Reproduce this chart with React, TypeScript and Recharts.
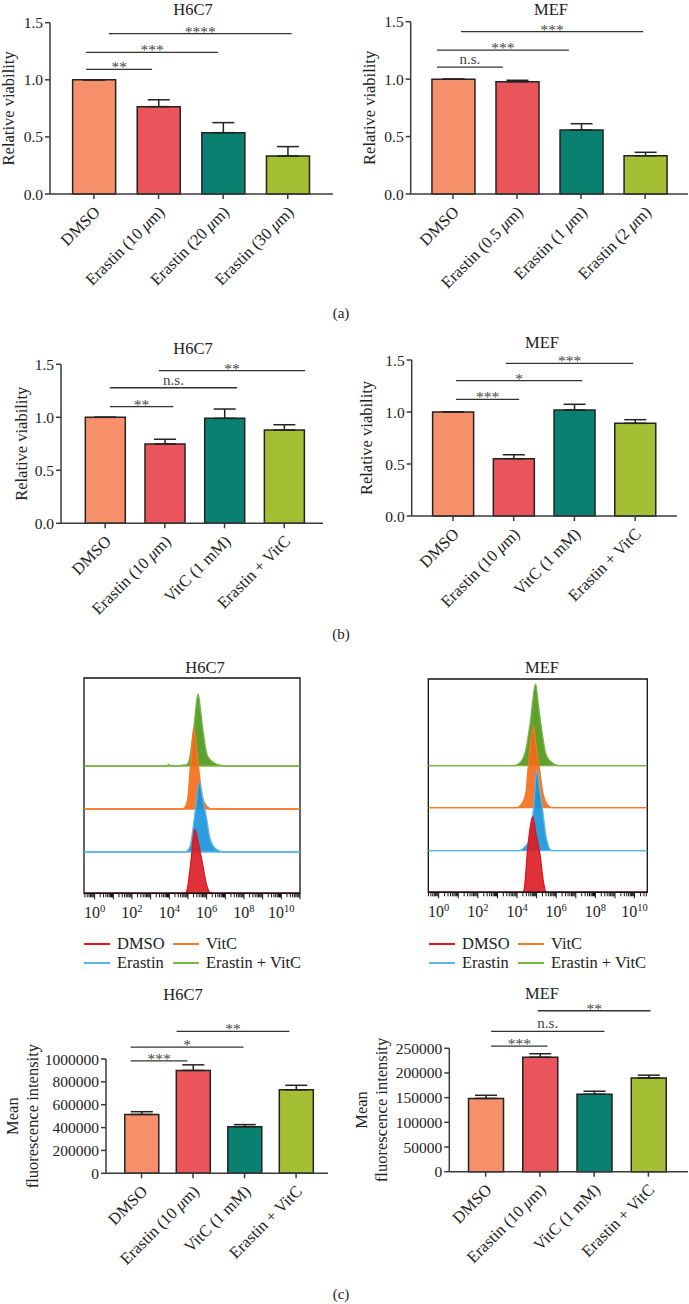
import React from 'react';
import {
  BarChart, Bar, Cell, XAxis, YAxis, ErrorBar, ReferenceLine,
  ComposedChart, Area, ReferenceArea,
} from 'recharts';

const FONT = '"Liberation Serif", "Times New Roman", serif';
const AXIS = '#3a3a3a';
const BAR_COLORS = ['#F5906A', '#E9555A', '#0A8070', '#A4BF34'];

// (a) viability vs erastin dose
const doseLabelsH6C7 = ['DMSO', 'Erastin (10 μm)', 'Erastin (20 μm)', 'Erastin (30 μm)'];
const doseViabilityH6C7 = [1.0, 0.765, 0.537, 0.333];
const doseErrH6C7 = [0, 0.06, 0.088, 0.082];
const doseSigH6C7 = [
  { from: -0.12, to: 0.9, y: 1.092, text: '**' },
  { from: -0.12, to: 1.92, y: 1.24, text: '***' },
  { from: 0.23, to: 3.06, y: 1.404, text: '****' },
];

const doseLabelsMEF = ['DMSO', 'Erastin (0.5 μm)', 'Erastin (1 μm)', 'Erastin (2 μm)'];
const doseViabilityMEF = [1.0, 0.978, 0.557, 0.333];
const doseErrMEF = [0, 0.012, 0.055, 0.03];
const doseSigMEF = [
  { from: -0.25, to: 0.78, y: 1.105, text: 'n.s.' },
  { from: -0.25, to: 1.81, y: 1.253, text: '***' },
  { from: 0.125, to: 2.97, y: 1.413, text: '***' },
];

// (b) viability with vitamin C
const vitcLabels = ['DMSO', 'Erastin (10 μm)', 'VitC (1 mM)', 'Erastin + VitC'];
const vitcViabilityH6C7 = [1.0, 0.748, 0.99, 0.88];
const vitcErrH6C7 = [0, 0.045, 0.088, 0.05];
const vitcSigH6C7 = [
  { from: 0.08, to: 1.14, y: 1.1, text: '**' },
  { from: 0.08, to: 2.21, y: 1.279, text: 'n.s.' },
  { from: 0.9, to: 3.35, y: 1.44, text: '**' },
];
const vitcViabilityMEF = [1.0, 0.551, 1.019, 0.891];
const vitcErrMEF = [0, 0.038, 0.055, 0.035];
const vitcSigMEF = [
  { from: 0.05, to: 1.09, y: 1.122, text: '***' },
  { from: 0.05, to: 2.13, y: 1.301, text: '*' },
  { from: 0.87, to: 2.97, y: 1.468, text: '***' },
];
const viabilityTicks = [0, 0.5, 1.0, 1.5];

// (c) mean fluorescence intensity
const mfiH6C7 = [515000, 900000, 408000, 730000];
const mfiErrH6C7 = [24000, 49000, 18000, 40000];
const mfiSigH6C7 = [
  { from: -0.21, to: 0.89, y: 984000, text: '***' },
  { from: -0.21, to: 1.98, y: 1104600, text: '*' },
  { from: 0.68, to: 2.87, y: 1241000, text: '**' },
];
const mfiTicksH6C7 = [0, 200000, 400000, 600000, 800000, 1000000];

const mfiMEF = [148500, 232000, 157000, 190000];
const mfiErrMEF = [6300, 7000, 6000, 5600];
const mfiSigMEF = [
  { from: 0.1, to: 1.14, y: 254300, text: '***' },
  { from: 0.1, to: 2.19, y: 284300, text: 'n.s.' },
  { from: 0.96, to: 3.04, y: 326100, text: '**' },
];
const mfiTicksMEF = [0, 50000, 100000, 150000, 200000, 250000];

// (c) flow histograms: [log10 intensity, count]
const histNames = ['DMSO', 'Erastin', 'VitC', 'Erastin + VitC'];
const histFill = ['#DC1C22', '#1592DB', '#F56A17', '#4B9614'];
const histLine = ['#E3121B', '#5AB6E6', '#F47B2B', '#78B548'];
const histOffsets = [0, 41.3, 84.3, 127.3];
const histOffsetsMEF = [0, 41.6, 84.6, 126.6];

const histH6C7 = [
  [[-0.57, 0], [4.85, 0], [4.95, 3], [5.16, 32], [5.36, 64], [5.5, 55], [5.75, 32], [6.0, 8], [6.16, 1], [6.3, 0], [11, 0]],
  [[-0.57, 0], [4.82, 0], [5.1, 5], [5.35, 35], [5.61, 69.6], [5.8, 52], [5.98, 35], [6.2, 12], [6.5, 3], [6.83, 0.5], [7.0, 0], [11, 0]],
  [[-0.57, 0], [4.7, 0], [4.85, 2], [5.0, 12], [5.12, 41], [5.32, 81.7], [5.45, 62], [5.57, 41], [5.8, 10], [6.05, 2], [6.29, 0], [11, 0]],
  [[-0.57, 0], [3.85, 0], [3.96, 1.5], [4.1, 0], [4.6, 0], [4.7, 1], [4.9, 1], [5.05, 5], [5.3, 36], [5.54, 72], [5.68, 55], [5.8, 36], [6.05, 10], [6.4, 3], [6.83, 0.5], [7.0, 0], [11, 0]],
];
const histMEF = [
  [[-0.53, 0], [4.3, 0], [4.4, 8], [4.52, 38], [4.8, 75.6], [4.95, 60], [5.17, 38], [5.35, 10], [5.5, 0], [10.65, 0]],
  [[-0.53, 0], [4.1, 0], [4.4, 4], [4.6, 10], [4.83, 40], [5.02, 80.7], [5.15, 62], [5.31, 40], [5.5, 12], [5.77, 0], [10.65, 0]],
  [[-0.53, 0], [3.98, 0], [4.25, 4], [4.45, 15], [4.57, 41], [4.83, 81.7], [4.97, 62], [5.13, 41], [5.35, 12], [5.6, 2], [5.77, 0], [10.65, 0]],
  [[-0.53, 0], [3.84, 0], [4.2, 4], [4.45, 16], [4.66, 41], [4.95, 81.7], [5.08, 62], [5.22, 41], [5.5, 10], [5.8, 3], [6.1, 0], [10.65, 0]],
];
const decades = [-1, 0, 1, 2, 3, 4, 5, 6, 7, 8, 9, 10, 11];

type Sig = { from: number; to: number; y: number; text: string };

const sigLabel = (text: string) => (p: any) => {
  const vb = p.viewBox || {};
  const cx = vb.x + (vb.width || 0) / 2;
  const star = text.includes('*');
  return (
    <text x={cx} y={star ? vb.y + 3 : vb.y - 3} textAnchor="middle"
      fontFamily={FONT} fontSize={star ? 15.5 : 15} fill="#444">{text}</text>
  );
};

const yTitle = (lines: string[], xs: number[]) => (p: any) => {
  const vb = p.viewBox || {};
  const cy = vb.y + vb.height / 2;
  return (
    <g>
      {lines.map((l, i) => (
        <text key={i} x={xs[i]} y={cy} transform={`rotate(-90 ${xs[i]} ${cy})`}
          textAnchor="middle" dominantBaseline="central" fontFamily={FONT} fontSize={16.5} fill="#222">{l}</text>
      ))}
    </g>
  );
};

const rotTick = (labels: string[]) => (p: any) => {
  const t = labels[Math.round(p.payload.value)];
  if (t == null) return null;
  const ax = p.x + 7;
  const ay = p.y + 12;
  const parts = t.split('μ');
  return (
    <text x={ax} y={ay} transform={`rotate(-45 ${ax} ${ay})`} textAnchor="end"
      fontFamily={FONT} fontSize={16.5} fill="#222">
      {parts.map((s, i) => (
        <React.Fragment key={i}>
          {i > 0 && <tspan fontStyle="italic">μ</tspan>}
          {s}
        </React.Fragment>
      ))}
    </text>
  );
};

function SigBars(props: {
  left: number; top: number; width: number; height: number;
  margin: { top: number; right: number; bottom: number; left: number };
  yWidth: number; labels: string[]; values: number[]; errs: number[]; sig: Sig[];
  xDomain: [number, number]; yTicks: number[]; fmt: (v: number) => string;
  barSize: number; yLines: string[]; yXs: number[];
}) {
  const data = props.values.map((v, i) => ({ pos: i, v, err: [0, props.errs[i]] }));
  const yMax = props.yTicks[props.yTicks.length - 1];
  return (
    <div style={{ position: 'absolute', left: props.left, top: props.top }}>
      <BarChart width={props.width} height={props.height} data={data} margin={props.margin}>
        <XAxis type="number" dataKey="pos" domain={props.xDomain} allowDataOverflow ticks={[0, 1, 2, 3]}
          interval={0} height={100} tick={rotTick(props.labels)}
          axisLine={{ stroke: AXIS, strokeWidth: 1.5 }} tickLine={{ stroke: AXIS, strokeWidth: 1.5 }} tickSize={5} />
        <YAxis type="number" domain={[0, yMax]} ticks={props.yTicks} width={props.yWidth}
          tickFormatter={props.fmt} interval={0}
          tick={{ fontFamily: FONT, fontSize: 15.5, fill: '#222' }}
          axisLine={{ stroke: AXIS, strokeWidth: 1.5 }} tickLine={{ stroke: AXIS, strokeWidth: 1.5 }} tickSize={5}
          label={{ content: yTitle(props.yLines, props.yXs) }} />
        <Bar dataKey="v" barSize={props.barSize} stroke="#222" strokeWidth={1.5} isAnimationActive={false}>
          {data.map((d, i) => <Cell key={i} fill={BAR_COLORS[i]} />)}
          <ErrorBar dataKey="err" direction="y" width={11} stroke="#222" strokeWidth={1.5} />
        </Bar>
        {props.sig.map((s, i) => (
          <ReferenceLine key={i} ifOverflow="visible" stroke="#333" strokeWidth={1.3}
            segment={[{ x: s.from, y: s.y }, { x: s.to, y: s.y }]}
            label={{ content: sigLabel(s.text) }} />
        ))}
      </BarChart>
    </div>
  );
}

const logTick = (p: any) => {
  const v = p.payload.value;
  const major = Math.abs(v - Math.round(v)) < 1e-6;
  const e = Math.round(v);
  return (
    <g>
      <line x1={p.x} y1={p.y} x2={p.x} y2={p.y + (major ? 6 : 4)} stroke="#111" strokeWidth={1} />
      {major && e % 2 === 0 && e >= 0 && (
        <text x={p.x} y={p.y + 25} textAnchor="middle" fontFamily={FONT} fontSize={16} fill="#222">
          10<tspan dy={-6} fontSize={10.5}>{e}</tspan>
        </text>
      )}
    </g>
  );
};

function FlowHist(props: {
  left: number; top: number; width: number; height: number;
  margin: { top: number; right: number; bottom: number; left: number };
  domain: [number, number]; yMax: number; traces: number[][][]; offsets: number[];
}) {
  const ticks: number[] = [];
  decades.forEach((d) => {
    for (let k = 1; k <= 9; k++) {
      const t = d + Math.log10(k);
      if (t >= props.domain[0] && t <= props.domain[1]) ticks.push(t);
    }
  });
  const order = [3, 2, 1, 0];
  return (
    <div style={{ position: 'absolute', left: props.left, top: props.top }}>
      <ComposedChart width={props.width} height={props.height} margin={props.margin}>
        <XAxis type="number" dataKey="x" domain={props.domain} allowDataOverflow ticks={ticks} interval={0}
          tick={logTick} tickLine={false} tickSize={0} tickMargin={0} height={30}
          axisLine={{ stroke: '#111', strokeWidth: 1.5 }} />
        <YAxis hide type="number" domain={[0, props.yMax]} allowDataOverflow />
        <ReferenceArea x1={props.domain[0]} x2={props.domain[1]} y1={0} y2={props.yMax}
          fill="none" stroke="#111" strokeWidth={1.3} ifOverflow="visible" />
        {order.map((i) => {
          const off = props.offsets[i];
          const pts = props.traces[i].map(([x, h]) => ({ x, h }));
          return (
            <Area key={histNames[i]} data={pts} type="monotone" dataKey={(d: any) => [off, off + d.h]}
              fill={histFill[i]} fillOpacity={0.9} stroke={histLine[i]} strokeWidth={1.3}
              dot={false} activeDot={false} isAnimationActive={false} />
          );
        })}
      </ComposedChart>
    </div>
  );
}

function FlowLegend({ left, top }: { left: number; top: number }) {
  const rows = [[0, 2], [1, 3]];
  return (
    <div style={{ position: 'absolute', left, top, fontFamily: FONT, fontSize: 16.5, color: '#222' }}>
      {rows.map((r, ri) => (
        <div key={ri} style={{ display: 'flex', height: 18.4, alignItems: 'center' }}>
          {r.map((i, ci) => (
            <div key={i} style={{ display: 'flex', alignItems: 'center', width: ci === 0 ? 89 : 'auto', flexShrink: 0 }}>
              <div style={{ width: 26, height: 2, background: histLine[i], marginRight: 7, flexShrink: 0 }} />
              <span style={{ whiteSpace: 'nowrap' }}>{histNames[i]}</span>
            </div>
          ))}
        </div>
      ))}
    </div>
  );
}

function Title({ text, cx, cy, size = 16.5 }: { text: string; cx: number; cy: number; size?: number }) {
  return (
    <div style={{
      position: 'absolute', left: cx - 60, top: cy - 10, width: 120, textAlign: 'center',
      fontFamily: FONT, fontSize: size, lineHeight: '20px', color: '#222',
    }}>{text}</div>
  );
}

const fmt1 = (v: number) => v.toFixed(1);
const fmt0 = (v: number) => String(v);

export default function App() {
  return (
    <div style={{ position: 'absolute', left: 0, top: 0, width: 689, height: 1304, background: '#fff', overflow: 'hidden' }}>
      <SigBars left={0} top={0} width={345} height={300} margin={{ top: 22.7, right: 12, bottom: 6, left: 5 }}
        yWidth={45} labels={doseLabelsH6C7} values={doseViabilityH6C7} errs={doseErrH6C7} sig={doseSigH6C7}
        xDomain={[-0.68, 3.7]} yTicks={viabilityTicks} fmt={fmt1} barSize={43}
        yLines={['Relative viability']} yXs={[9]} />
      <SigBars left={345} top={0} width={344} height={300} margin={{ top: 21.7, right: 1, bottom: 6, left: 10.7 }}
        yWidth={55} labels={doseLabelsMEF} values={doseViabilityMEF} errs={doseErrMEF} sig={doseSigMEF}
        xDomain={[-0.66, 3.67]} yTicks={viabilityTicks} fmt={fmt1} barSize={43}
        yLines={['Relative viability']} yXs={[25]} />
      <Title text="H6C7" cx={193} cy={10} />
      <Title text="MEF" cx={551} cy={10} />
      <Title text="(a)" cx={341} cy={313} size={15} />

      <SigBars left={0} top={330} width={345} height={300} margin={{ top: 34.3, right: 22, bottom: 6.7, left: 16 }}
        yWidth={45} labels={vitcLabels} values={vitcViabilityH6C7} errs={vitcErrH6C7} sig={vitcSigH6C7}
        xDomain={[-0.74, 3.65]} yTicks={viabilityTicks} fmt={fmt1} barSize={40}
        yLines={['Relative viability']} yXs={[21.7]} />
      <SigBars left={345} top={330} width={344} height={300} margin={{ top: 30, right: 12, bottom: 14, left: 11.7 }}
        yWidth={55} labels={vitcLabels} values={vitcViabilityMEF} errs={vitcErrMEF} sig={vitcSigMEF}
        xDomain={[-0.68, 3.69]} yTicks={viabilityTicks} fmt={fmt1} barSize={41}
        yLines={['Relative viability']} yXs={[21.7]} />
      <Title text="H6C7" cx={193} cy={349} />
      <Title text="MEF" cx={542} cy={343} />
      <Title text="(b)" cx={341} cy={634} size={15} />

      <FlowHist left={0} top={670} width={345} height={260} margin={{ top: 8, right: 45, bottom: 6.7, left: 84 }}
        domain={[-0.57, 11]} yMax={215.3} traces={histH6C7} offsets={histOffsets} />
      <FlowHist left={345} top={670} width={344} height={260} margin={{ top: 9, right: 41.7, bottom: 7.7, left: 83.3 }}
        domain={[-0.53, 10.65]} yMax={213.3} traces={histMEF} offsets={histOffsetsMEF} />
      <Title text="H6C7" cx={205} cy={668} />
      <Title text="MEF" cx={542} cy={668} />
      <FlowLegend left={84} top={935} />
      <FlowLegend left={429} top={935} />

      <SigBars left={0} top={1010} width={345} height={270} margin={{ top: 49, right: 17, bottom: 6.7, left: 46 }}
        yWidth={60} labels={vitcLabels} values={mfiH6C7} errs={mfiErrH6C7} sig={mfiSigH6C7}
        xDomain={[-0.69, 3.62]} yTicks={mfiTicksH6C7} fmt={fmt0} barSize={34}
        yLines={['Mean', 'fluorescence intensity']} yXs={[13, 33]} />
      <SigBars left={345} top={1000} width={344} height={280} margin={{ top: 48.3, right: 1, bottom: 8.3, left: 44.3 }}
        yWidth={60} labels={vitcLabels} values={mfiMEF} errs={mfiErrMEF} sig={mfiSigMEF}
        xDomain={[-0.67, 3.73]} yTicks={mfiTicksMEF} fmt={fmt0} barSize={35}
        yLines={['Mean', 'fluorescence intensity']} yXs={[16, 36]} />
      <Title text="H6C7" cx={183} cy={995} />
      <Title text="MEF" cx={542} cy={994} />
      <Title text="(c)" cx={341} cy={1294} size={15} />
    </div>
  );
}
